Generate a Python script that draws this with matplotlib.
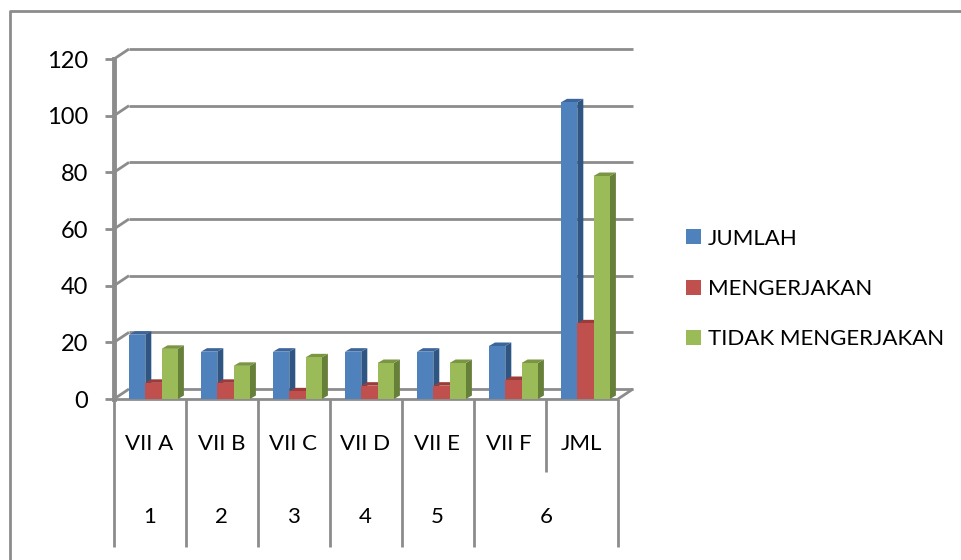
import matplotlib
matplotlib.use('Agg')
import matplotlib.pyplot as plt
from matplotlib.lines import Line2D
from matplotlib.patches import Patch

plt.rcParams['font.family'] = ['Lato', 'DejaVu Sans']

# Data
classes = ['VII A', 'VII B', 'VII C', 'VII D', 'VII E', 'VII F', 'JML']
groups = ['1', '2', '3', '4', '5', '6']
jumlah = [22, 16, 16, 16, 16, 18, 104]
mengerjakan = [5, 5, 2, 4, 4, 6, 26]
tidak = [17, 11, 14, 12, 12, 12, 78]
y_ticks = [0, 20, 40, 60, 80, 100, 120]
series_names = ['JUMLAH', 'MENGERJAKAN', 'TIDAK MENGERJAKAN']

W, H = 961, 560
grey = '#8c8c8c'
colors = ['#4f81bd', '#c0504d', '#9bbb59']
sides = ['#2f5583', '#8a3532', '#66803a']
tops = ['#3b659b', '#9c3c39', '#7a9643']

fig = plt.figure(figsize=(W / 100, H / 100), dpi=100)
fig.patch.set_facecolor('white')

# axes is the front plane of the 3d box
left, right, top, bottom = 114, 618, 59, 399
ax = fig.add_axes([left / W, 1 - bottom / H, (right - left) / W, (bottom - top) / H])
ax.set_xlim(0, 7)
ax.set_ylim(0, 120)
ax.axis('off')

px_x = 7 / (right - left)
px_y = 120 / (bottom - top)
wall_dx = 15 * px_x
wall_dy = 10 * px_y
line = dict(color=grey, lw=2.0, clip_on=False, solid_capstyle='butt')

# back wall gridlines, slants and ticks
for v in y_ticks:
    ax.plot([wall_dx, 7 + wall_dx], [v + wall_dy, v + wall_dy], zorder=1, **line)
    ax.plot([0, wall_dx], [v, v + wall_dy], zorder=1, **line)
    ax.plot([-9 * px_x, 0], [v, v], zorder=1, **line)
    ax.text(-26 * px_x, v - 2 * px_y, str(v), ha='right', va='center', fontsize=17, color='black')
ax.plot([0, 0], [0, 120], zorder=1, color=grey, lw=3.5, clip_on=False)
ax.plot([0, 7], [0, 0], zorder=1, **line)
ax.plot([7, 7 + wall_dx], [0, wall_dy], zorder=1, **line)

# bars with side and top faces, the faces sit a little above the floor line
bar_w = 16.3 * px_x
depth_x = 6 * px_x
depth_y = 3.5 * px_y
start = 15 * px_x
lift = 2 * px_y
for s, vals in enumerate([jumlah, mengerjakan, tidak]):
    for i, v in enumerate(vals):
        x0 = i + start + s * bar_w
        x1 = x0 + bar_w
        h = v + lift
        ax.fill([x1, x1 + depth_x, x1 + depth_x, x1], [0, depth_y, h + depth_y, h],
                color=sides[s], lw=0, zorder=2 + s)
        ax.fill([x0, x0 + depth_x, x1 + depth_x, x1], [h, h + depth_y, h + depth_y, h],
                color=tops[s], lw=0, zorder=2 + s)
        ax.bar(x0, h, width=bar_w, align='edge', color=colors[s], lw=0, zorder=2 + s)

# category table under the axis
level1_y = -73 * px_y
level2_y = -148 * px_y
for i in range(8):
    low = level1_y if i == 6 else level2_y
    ax.plot([i, i], [0, low], **line)
for i, name in enumerate(classes):
    ax.text(i + 0.49, -45 * px_y, name, ha='center', va='center', fontsize=16, color='black')
for i, name in enumerate(groups):
    pos = i + 0.49 if i < 5 else 6.0
    ax.text(pos, -118 * px_y, name, ha='center', va='center', fontsize=16, color='black')

# legend
handles = [Patch(facecolor=c, edgecolor='none', label=n) for c, n in zip(colors, series_names)]
fig.legend(handles=handles, loc='center left', bbox_to_anchor=(666 / W, 1 - 289 / H),
           frameon=False, fontsize=16, handlelength=0.68, handleheight=0.68,
           handletextpad=0.32, labelspacing=1.37)

# outer chart border, only top and left are inside the picture
fig.add_artist(Line2D([10 / W, 10 / W, 1], [0, 1 - 11 / H, 1 - 11 / H], color=grey, lw=2.0,
                      transform=fig.transFigure))

fig.savefig('out.png', dpi=100)
